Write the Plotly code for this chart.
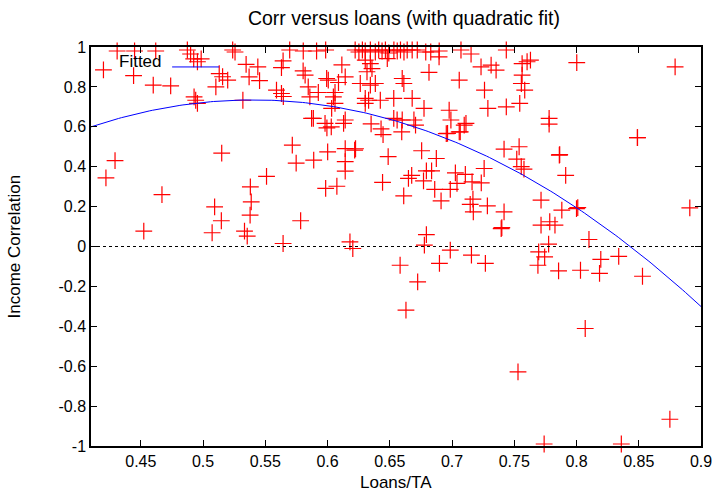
import plotly.graph_objects as go
import numpy as np

# ---- data ----
top_x = [0.431, 0.445, 0.462, 0.4874, 0.49, 0.5238, 0.5257, 0.5696, 0.5805, 0.5912, 0.5985,
         0.6222, 0.6252, 0.628, 0.6303, 0.6344, 0.6384, 0.6411, 0.6438, 0.6465, 0.6492, 0.6533,
         0.656, 0.6586, 0.6614, 0.664, 0.668, 0.6721, 0.6789, 0.6829, 0.6897, 0.7072, 0.7153, 0.7436]
top_y = [0.98, 0.98, 0.98, 0.985, 0.965, 0.985, 0.975, 0.985, 0.98, 0.98, 0.985,
         0.985, 0.975, 0.985, 0.98, 0.985, 0.975, 0.985, 0.98, 0.985, 0.97, 0.985,
         0.98, 0.985, 0.975, 0.985, 0.985, 0.985, 0.975, 0.975, 0.98, 0.985, 0.965, 0.985]

upper_x = [0.42, 0.4442, 0.46, 0.474, 0.4925, 0.4955, 0.4985, 0.4928, 0.4941, 0.4955,
           0.5103, 0.513, 0.5157, 0.5198, 0.532, 0.5346, 0.537, 0.544, 0.5454,
           0.559, 0.563, 0.5645, 0.5643, 0.563, 0.5804, 0.582, 0.5845, 0.5858, 0.5926,
           0.5993, 0.6006, 0.5872, 0.598, 0.5995, 0.603, 0.6115, 0.6142, 0.6088,
           0.606, 0.6047, 0.606, 0.6303, 0.6344, 0.6357, 0.6317, 0.6263, 0.6344, 0.6384,
           0.6303, 0.633, 0.6303, 0.6424, 0.6532, 0.668, 0.648, 0.66, 0.6613,
           0.6815, 0.6896, 0.6775, 0.7058, 0.7233, 0.7314, 0.7354, 0.7563, 0.7603, 0.763,
           0.7563, 0.7261, 0.7557, 0.7584, 0.6977, 0.6991, 0.7288, 0.7436, 0.7544,
           0.6532, 0.6559, 0.66, 0.6694, 0.6707, 0.6142, 0.6129, 0.635, 0.643,
           0.6964, 0.7058, 0.7098, 0.7112, 0.6033, 0.5886,
           0.8002, 0.8792, 0.778, 0.778, 0.849, 0.7862]
upper_y = [0.885, 0.857, 0.809, 0.805, 0.94, 0.926, 0.94, 0.75, 0.733, 0.717,
           0.8, 0.867, 0.851, 0.834, 0.733, 0.913, 0.85, 0.9, 0.831,
           0.784, 0.767, 0.752, 0.93, 0.897, 0.88, 0.859, 0.8, 0.75, 0.772,
           0.842, 0.834, 0.642, 0.617, 0.595, 0.6, 0.91, 0.85, 0.822,
           0.772, 0.75, 0.717, 0.934, 0.917, 0.892, 0.876, 0.817, 0.809, 0.817,
           0.742, 0.733, 0.717, 0.733, 0.742, 0.742, 0.942, 0.842, 0.817,
           0.873, 0.951, 0.692, 0.834, 0.9, 0.909, 0.884, 0.917, 0.926, 0.934,
           0.859, 0.784, 0.817, 0.784, 0.683, 0.634, 0.692, 0.7, 0.717,
           0.642, 0.634, 0.634, 0.634, 0.608, 0.634, 0.617, 0.615, 0.59,
           0.567, 0.575, 0.608, 0.617, 0.692, 0.642,
           0.922, 0.9, 0.642, 0.613, 0.546, 0.458]

mid_x = [0.422, 0.4293, 0.4524, 0.467, 0.5073, 0.5093, 0.515, 0.5147, 0.538, 0.5387, 0.5378,
         0.5333, 0.5355, 0.551, 0.5643, 0.5717, 0.5748, 0.5784, 0.5889, 0.6001, 0.5985,
         0.6075, 0.6142, 0.6218, 0.6225, 0.6142, 0.6142, 0.618, 0.6203, 0.6446, 0.6442,
         0.6487, 0.6596, 0.6612, 0.6583, 0.6724, 0.6756, 0.6794, 0.6778, 0.6676, 0.665,
         0.6771, 0.6794, 0.6836, 0.6874, 0.6861, 0.6912, 0.6899, 0.6954, 0.7066, 0.6986,
         0.6986, 0.7027, 0.7107, 0.704, 0.7161, 0.7235, 0.7258, 0.7168, 0.7146, 0.7171,
         0.7284, 0.7156, 0.7268, 0.7418, 0.7539, 0.752, 0.7556, 0.7578, 0.7418, 0.7395,
         0.7400, 0.7715, 0.7715, 0.7785, 0.7827, 0.7776, 0.7696, 0.7744, 0.769, 0.7856,
         0.7865, 0.7913, 0.7882, 0.80, 0.801, 0.81, 0.8032, 0.8195, 0.8185, 0.8339, 0.853,
         0.8489, 0.891]
mid_y = [0.344, 0.43, 0.077, 0.26, 0.069, 0.199, 0.468, 0.129, 0.299, 0.224, 0.157,
         0.077, 0.052, 0.352, 0.015, 0.508, 0.418, 0.129, 0.433, 0.474, 0.291,
         0.302, 0.491, 0.483, 0.49, 0.425, 0.378, 0.023, -0.01, 0.561, 0.321,
         0.451, 0.575, 0.254, -0.094, -0.177, 0.48, 0.06, 0.007, 0.357, 0.341,
         0.329, 0.379, 0.379, 0.441, 0.286, 0.229, -0.085, 0.566, 0.575, -0.018,
         0.286, 0.369, 0.362, 0.316, 0.324, 0.319, 0.391, 0.237, 0.211, 0.174,
         0.204, -0.043, -0.085, 0.488, 0.5, 0.438, 0.4, 0.388, 0.174, 0.09,
         0.095, 0.232, 0.107, 0.124, 0.107, 0.012, -0.027, -0.052, -0.094, -0.122,
         0.461, 0.357, 0.182, 0.19, 0.195, 0.035, -0.119, -0.065, -0.135, -0.049, -0.149,
         0.546, 0.194]

low_x = [0.663, 0.753, 0.774, 0.807, 0.836, 0.875]
low_y = [-0.319, -0.628, -0.99, -0.411, -0.99, -0.866]

loans_ta = top_x + upper_x + mid_x + low_x
income_corr = top_y + upper_y + mid_y + low_y

# quadratic fit coefficients
fit_coef = [-7.99, 8.629, -1.595]

x_tickvals = [0.45, 0.5, 0.55, 0.6, 0.65, 0.7, 0.75, 0.8, 0.85, 0.9]
x_ticktext = ["0.45", "0.5", "0.55", "0.6", "0.65", "0.7", "0.75", "0.8", "0.85", "0.9"]
y_tickvals = [-1, -0.8, -0.6, -0.4, -0.2, 0, 0.2, 0.4, 0.6, 0.8, 1]
y_ticktext = ["-1", "-0.8", "-0.6", "-0.4", "-0.2", "0", "0.2", "0.4", "0.6", "0.8", "1"]

x_range = [0.41, 0.9]

fit_x = np.linspace(x_range[0], x_range[1], 200)
fit_y = np.polyval(fit_coef, fit_x)

FONT = "Liberation Sans, Arial, Helvetica, sans-serif"

fig = go.Figure()
fig.add_trace(go.Scatter(
    x=loans_ta, y=income_corr, mode="markers",
    marker=dict(symbol="cross-thin", size=12, line=dict(color="rgb(255,0,0)", width=1.2)),
    cliponaxis=False, showlegend=False,
))
fig.add_trace(go.Scatter(
    x=fit_x, y=fit_y, mode="lines",
    line=dict(color="rgb(0,0,255)", width=1), showlegend=False,
))

fig.add_shape(type="line", xref="paper", yref="y", x0=0, x1=1, y0=0, y1=0,
              line=dict(color="black", width=1, dash="3px,3px"))

# legend (gnuplot style: text then sample line)
fig.add_annotation(xref="paper", yref="paper", x=0.0426, y=0.963, text="Fitted",
                   showarrow=False, xanchor="left", yanchor="middle",
                   font=dict(family=FONT, size=17, color="black"))
fig.add_shape(type="line", xref="paper", yref="paper", x0=0.133, x1=0.21, y0=0.95, y1=0.95,
              line=dict(color="rgb(0,0,255)", width=1))

# axis titles as annotations (exact placement)
fig.add_annotation(xref="paper", yref="paper", x=0.5, y=-0.0927, text="Loans/TA",
                   showarrow=False, xanchor="center", yanchor="middle",
                   font=dict(family=FONT, size=17, color="black"))
fig.add_annotation(xref="paper", yref="paper", x=-0.1246, y=0.5, text="Income Correlation",
                   showarrow=False, xanchor="center", yanchor="middle", textangle=-90,
                   font=dict(family=FONT, size=17, color="black"))

axis_common = dict(showline=True, linecolor="black", linewidth=1.5, mirror="ticks",
                   ticks="inside", ticklen=6, tickcolor="black", showgrid=False,
                   zeroline=False, automargin=False,
                   tickfont=dict(family=FONT, size=16, color="black"))

fig.update_xaxes(range=x_range, tickvals=x_tickvals, ticktext=x_ticktext, **axis_common)
fig.update_yaxes(range=[-1, 1], tickvals=y_tickvals, ticktext=y_ticktext, **axis_common)

fig.update_layout(
    width=714, height=496,
    margin=dict(l=91, r=13, t=47, b=50, autoexpand=False),
    paper_bgcolor="white", plot_bgcolor="white",
    title=dict(text="Corr versus loans (with quadratic fit)", x=0.513, xanchor="center",
               xref="paper", y=1 - 18 / 496, yanchor="middle",
               font=dict(family=FONT, size=19.5, color="black")),
)

fig.write_html("out.html", config={"displayModeBar": False},
               post_script="document.body.style.margin='0px';")
